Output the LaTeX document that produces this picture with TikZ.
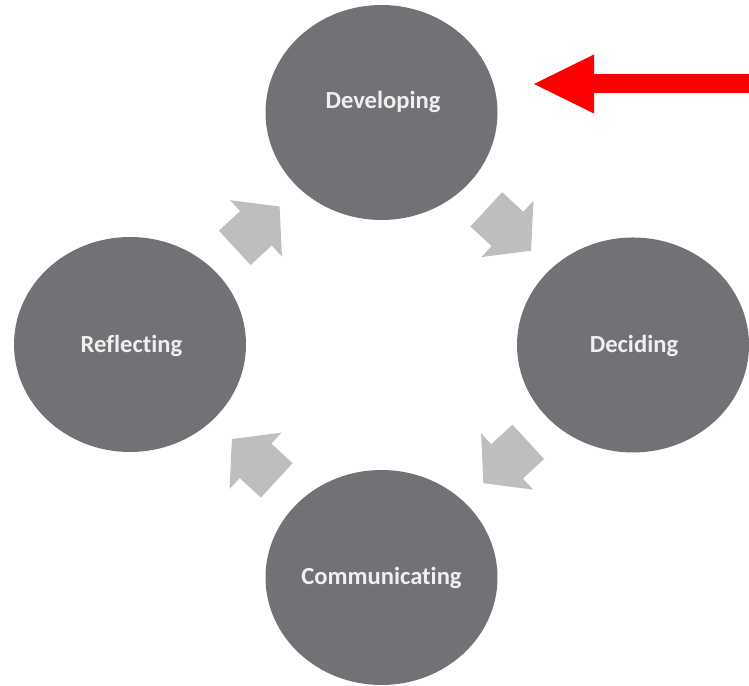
\documentclass[tikz,border=0pt]{standalone}
\usepackage{fontspec}
\setmainfont{Carlito}[Ligatures=NoCommon]
\usetikzlibrary{shapes.geometric,shapes.arrows,calc,arrows.meta}
\definecolor{phasegray}{RGB}{115,113,118}
\definecolor{cyclegray}{RGB}{190,190,192}
\definecolor{pointred}{RGB}{255,0,0}
\tikzset{
	phase/.style={ellipse, fill=phasegray, draw=none, minimum width=4.64cm, minimum height=4.30cm, inner sep=0pt},
	phaselabel/.style={text=white!94!black, font=\bfseries\fontsize{14}{16}\selectfont, inner sep=0pt},
	cyclearrow/.style={single arrow, fill=cyclegray, draw=none, minimum height=1.22cm, single arrow head extend=0.30cm, single arrow tip angle=100, inner xsep=0pt, inner ysep=0.46cm},
}
\begin{document}
\begin{tikzpicture}
		\useasboundingbox (0.00,0.00) rectangle (14.98,13.72);
		\node[phase] (dev) at (7.63,11.47) {};
		\node[phase] (dec) at (12.66,6.82) {};
		\node[phase] (comm) at (7.63,2.17) {};
		\node[phase] (refl) at (2.60,6.83) {};
		\node[phaselabel] (devlabel) at (7.66,11.68) {Developing};
		\node[phaselabel] (declabel) at (12.68,6.80) {Deciding};
		\node[phaselabel] (commlabel) at (7.63,2.16) {Communicating};
		\node[phaselabel] (refllabel) at (2.63,6.80) {Reflecting};
		\node[cyclearrow, rotate=-42.7] (devdec) at ($(dev)!0.477!(dec)$) {};
		\node[cyclearrow, rotate=-137.3] (deccomm) at ($(dec)!0.477!(comm)$) {};
		\node[cyclearrow, rotate=137.3] (commrefl) at ($(comm)!0.477!(refl)$) {};
		\node[cyclearrow, rotate=42.7] (refldev) at ($(refl)!0.477!(dev)$) {};
		\coordinate (pointtail) at (15.20,12.04);
		\coordinate (pointtip) at (10.68,12.04);
		\draw[pointred, line width=0.38cm, -{Triangle[length=1.20cm, width=1.18cm, line width=0pt]}] (pointtail) -- (pointtip);
	\end{tikzpicture}
\end{document}
